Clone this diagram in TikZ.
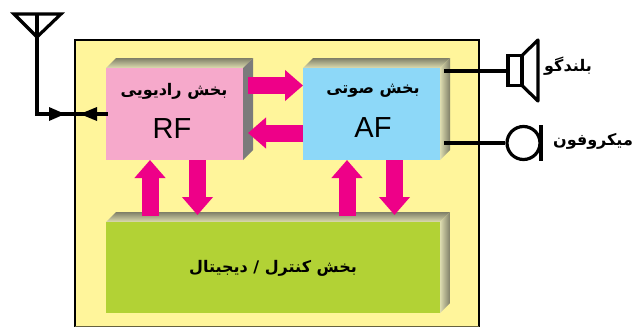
\documentclass[tikz,border=0pt]{standalone}
\usepackage{fontspec}
\setmainfont{Liberation Sans}
\newfontfamily\arabicfont[Script=Arabic]{DejaVu Sans}
\TeXXeTstate=1
\usetikzlibrary{arrows.meta}
\definecolor{panelyellow}{HTML}{FFF59B}
\definecolor{rfpink}{HTML}{F6A9CB}
\definecolor{afblue}{HTML}{8DD8F8}
\definecolor{ctlgreen}{HTML}{B2D235}
\definecolor{busmagenta}{HTML}{EE0088}
\definecolor{depthdark}{HTML}{7F7F68}
\definecolor{depthlight}{HTML}{DEDDB0}
\tikzset{
  block/.style={minimum width=137pt,minimum height=92pt,inner sep=0pt,anchor=north west},
  fa/.style={font=\arabicfont\bfseries\fontsize{16}{18}\selectfont,inner sep=0pt},
  latin/.style={font=\fontsize{29}{31}\selectfont,inner sep=0pt},
  busup/.style={draw=busmagenta,line width=17pt,-{Triangle[length=18pt,width=30pt,fill=busmagenta]},shorten >=0pt},
  wire/.style={draw=black,line width=3.2pt},
  wirehead/.style={fill=black,draw=none},
}
\begin{document}
\begin{tikzpicture}[x=1pt,y=-1pt]
\useasboundingbox (0,0) rectangle (633,327);
% panel
\fill[panelyellow] (75,40) rectangle (479,326);
\draw[black,line width=1.6pt] (75,327) -- (75,40) -- (479,40) -- (479,327);
\draw[black!60!panelyellow,line width=1pt] (75,326.5) -- (479,326.5);
% RF depth
\shade[top color=depthdark,bottom color=depthlight] (106,68) -- (116,58) -- (253,58) -- (243,68) -- cycle;
\fill[gray!85!black!90!white] (243,68) -- (253,58) -- (253,150) -- (243,160) -- cycle;
% AF depth
\shade[top color=depthdark,bottom color=depthlight] (303,68) -- (313,58) -- (450,58) -- (440,68) -- cycle;
\shade[left color=depthlight,right color=depthdark] (440,68) -- (450,58) -- (450,150) -- (440,160) -- cycle;
% Control depth
\shade[top color=depthdark,bottom color=depthlight] (106,222) -- (116,212) -- (450,212) -- (440,222) -- cycle;
\shade[left color=depthlight,right color=depthdark] (440,222) -- (450,212) -- (450,303) -- (440,313) -- cycle;
% blocks
\node[block,fill=rfpink] (rf) at (106,68) {};
\node[block,fill=afblue] (af) at (303,68) {};
\node[block,fill=ctlgreen,minimum width=334pt,minimum height=91pt] (ctl) at (106,222) {};
% labels
\node[fa] (rft) at (174,91) {\beginR بخش رادیویی\endR};
\node[latin] (rfl) at (172,129) {RF};
\node[fa] (aft) at (373,91) {\beginR بخش صوتی\endR};
\node[latin] (afl) at (373,128) {AF};
\node[fa] (ctlt) at (273,268) {\beginR بخش کنترل / دیجیتال\endR};
\node[fa] (spt) at (568,66) {\beginR بلندگو\endR};
\node[fa] (mct) at (593,141) {\beginR میکروفون\endR};
% bus arrows
\coordinate (a1s) at (248,85.5); \coordinate (a1e) at (303,85.5);
\coordinate (a2s) at (303,133); \coordinate (a2e) at (248,133);
\coordinate (a3s) at (150,216); \coordinate (a3e) at (150,160);
\coordinate (a4s) at (197.5,160); \coordinate (a4e) at (197.5,215);
\coordinate (a5s) at (347,216); \coordinate (a5e) at (347,160);
\coordinate (a6s) at (394.5,160); \coordinate (a6e) at (394.5,215);
\foreach \s/\e in {a1s/a1e,a2s/a2e,a3s/a3e,a4s/a4e,a5s/a5e,a6s/a6e}
  \draw[busup] (\s) -- (\e);
% antenna
\coordinate (anttl) at (14,14); \coordinate (anttr) at (61,14);
\coordinate (anttip) at (37,37); \coordinate (anttop) at (37,14);
\coordinate (antcorner) at (37,114); \coordinate (rfport) at (108,114);
\draw[wire,line join=miter] (anttl) -- (anttr) -- (anttip) -- cycle;
\draw[wire,line join=miter] (anttop) -- (antcorner) -- (rfport);
\fill[wirehead] (65,114) -- (49,107) -- (49,121) -- cycle;
\fill[wirehead] (80,114) -- (97,107) -- (97,121) -- cycle;
% speaker
\coordinate (afsp) at (444,71); \coordinate (spin) at (508,71);
\draw[wire] (afsp) -- (spin);
\node[draw=black,line width=3.2pt,minimum width=14pt,minimum height=30pt,inner sep=0pt] (spbox) at (515,70.5) {};
\draw[wire,line join=round] (522,55.5) -- (538,40) -- (538,101) -- (522,85.5);
% microphone
\node[draw=black,circle,line width=3.2pt,minimum size=33pt,inner sep=0pt] (mic) at (523.5,143) {};
\coordinate (afmc) at (444,143);
\draw[wire] (afmc) -- (mic.west);
\draw[black,line width=4pt] (541,125) -- (541,161);
\end{tikzpicture}
\end{document}
